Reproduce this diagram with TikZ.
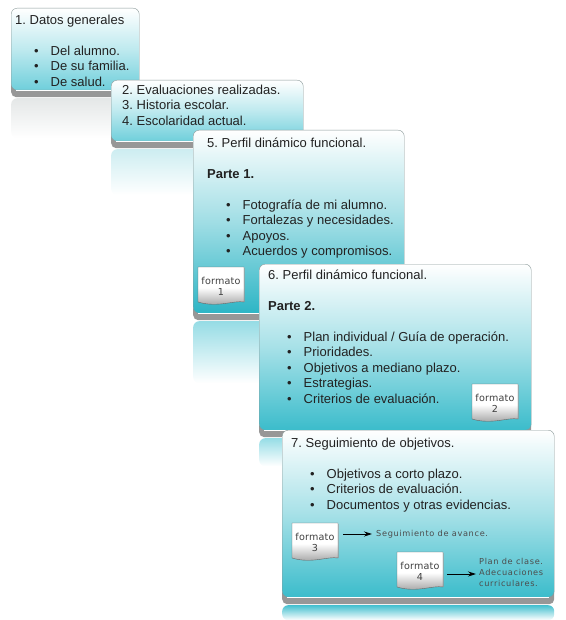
\documentclass[tikz,border=0pt]{standalone}
\usepackage{fontspec}
\setmainfont{Liberation Sans}
\newfontfamily\fmtfont[LetterSpace=2]{DejaVu Sans}
\newfontfamily\notafont[LetterSpace=8]{DejaVu Sans}
\usetikzlibrary{arrows.meta}
\definecolor{tinta}{HTML}{222222}
\definecolor{borde}{HTML}{8A9999}
\definecolor{gris}{HTML}{979797}
\definecolor{claro}{HTML}{6FCFDB}
\definecolor{medio}{HTML}{2DB5C5}
\definecolor{fuerte}{HTML}{3BBCCB}
\definecolor{refa}{HTML}{E4E7E7}
\definecolor{refb}{HTML}{CDEDF1}
\definecolor{refc}{HTML}{96DCE5}
\definecolor{refd}{HTML}{96DDE6}
\definecolor{refe}{HTML}{45C0CF}
\tikzset{
  panel/.style={draw=borde,rounded corners=6,anchor=north west,inner sep=0},
  banda/.style={fill=gris,rounded corners=5,anchor=north west,inner sep=0},
  reflejo/.style={rounded corners=6,anchor=north west,inner sep=0,bottom color=white},
  texto/.style={anchor=north west,inner sep=0,align=left,text=tinta,font=\fontsize{13}{15.5}\selectfont},
  fmt/.style={inner sep=0,minimum width=46,minimum height=38,align=center,text=black!75,font=\fmtfont\fontsize{9.6}{11}\selectfont},
  nota/.style={anchor=west,inner sep=0,align=left,text=black!70,font=\notafont\fontsize{8.2}{10.8}\selectfont},
  flecha/.style={-{Stealth[length=8,width=5]},black,line width=.8},
}
\newcommand{\vin}[1]{\hspace*{19pt}\makebox[16.5pt][l]{•}#1}
\frenchspacing
\begin{document}
\begin{tikzpicture}[x=1pt,y=-1pt]
  \useasboundingbox (0,0) rectangle (565,620);
  % the five sheets, back to front
  \foreach \n/\x/\y/\w/\h/\c/\r/\rh in {
    1/11/8/128/82/claro/refa/40,
    2/111/80/192/61/claro/refb/46,
    3/193/130/211/183/medio/refc/62,
    4/259/264/272/166/fuerte/refd/28,
    5/282/430/272/167/fuerte/refe/15}{
    \node[reflejo,top color=\r,minimum width=\w,minimum height=\rh] (ref\n) at (\x,{\y+\h+8}) {};
    \node[banda,minimum width=\w,minimum height=16] (sombra\n) at (\x,{\y+\h-9}) {};
    \node[panel,top color=white,bottom color=\c,middle color=\c!45,minimum width=\w,minimum height=\h] (hoja\n) at (\x,\y) {};
    \draw[white,line width=.8] ([xshift=5]hoja\n.south west) -- ([xshift=-5]hoja\n.south east);
  }
  % texts
  \node[texto] (t1) at (15,14.5) {1. Datos generales\\[15.5pt]\vin{Del alumno.}\\\vin{De su familia.}\\\vin{De salud.}};
  \node[texto] (t2) at (122,84.5) {2. Evaluaciones realizadas.\\3. Historia escolar.\\4. Escolaridad actual.};
  \node[texto] (t3) at (207,137.5) {5. Perfil dinámico funcional.\\[15.5pt]\textbf{Parte 1.}\\[15.5pt]\vin{Fotografía de mi alumno.}\\\vin{Fortalezas y necesidades.}\\\vin{Apoyos.}\\\vin{Acuerdos y compromisos.}};
  \node[texto] (t4) at (268,269.5) {6. Perfil dinámico funcional.\\[15.5pt]\textbf{Parte 2.}\\[15.5pt]\vin{Plan individual / Guía de operación.}\\\vin{Prioridades.}\\\vin{Objetivos a mediano plazo.}\\\vin{Estrategias.}\\\vin{Criterios de evaluación.}};
  \node[texto] (t5) at (291,437.5) {7. Seguimiento de objetivos.\\[15.5pt]\vin{Objetivos a corto plazo.}\\\vin{Criterios de evaluación.}\\\vin{Documentos y otras evidencias.}};
  % the small sheets
  \foreach \n/\x/\y in {1/198/267,2/472/384,3/292/523,4/397/552}{
    \fill[black!40,opacity=.6] ({\x+1},{\y+1}) rectangle ({\x+47},{\y+35});
    \path[draw=black!60,top color=white,bottom color=black!40,middle color=white] (\x,\y) -- ({\x+46},\y) -- ({\x+46},{\y+35})
      .. controls ({\x+36},{\y+33}) and ({\x+20},{\y+41}) .. (\x,{\y+35}) -- cycle;
    \node[fmt] (fmt\n) at ({\x+23},{\y+19}) {formato\\\n};
  }
  \node[nota] (seg) at (376,534) {Seguimiento de avance.};
  \node[nota] (plan) at (479,572.5) {Plan de clase.\\Adecuaciones\\curriculares.};
  \draw[flecha,shorten <=5,shorten >=4] (fmt3.east |- seg.west) -- (seg.west);
  \draw[flecha,shorten <=4,shorten >=3] ([yshift=-1.5]fmt4.east |- plan.west) -- ([yshift=-1.5]plan.west);
\end{tikzpicture}
\end{document}
